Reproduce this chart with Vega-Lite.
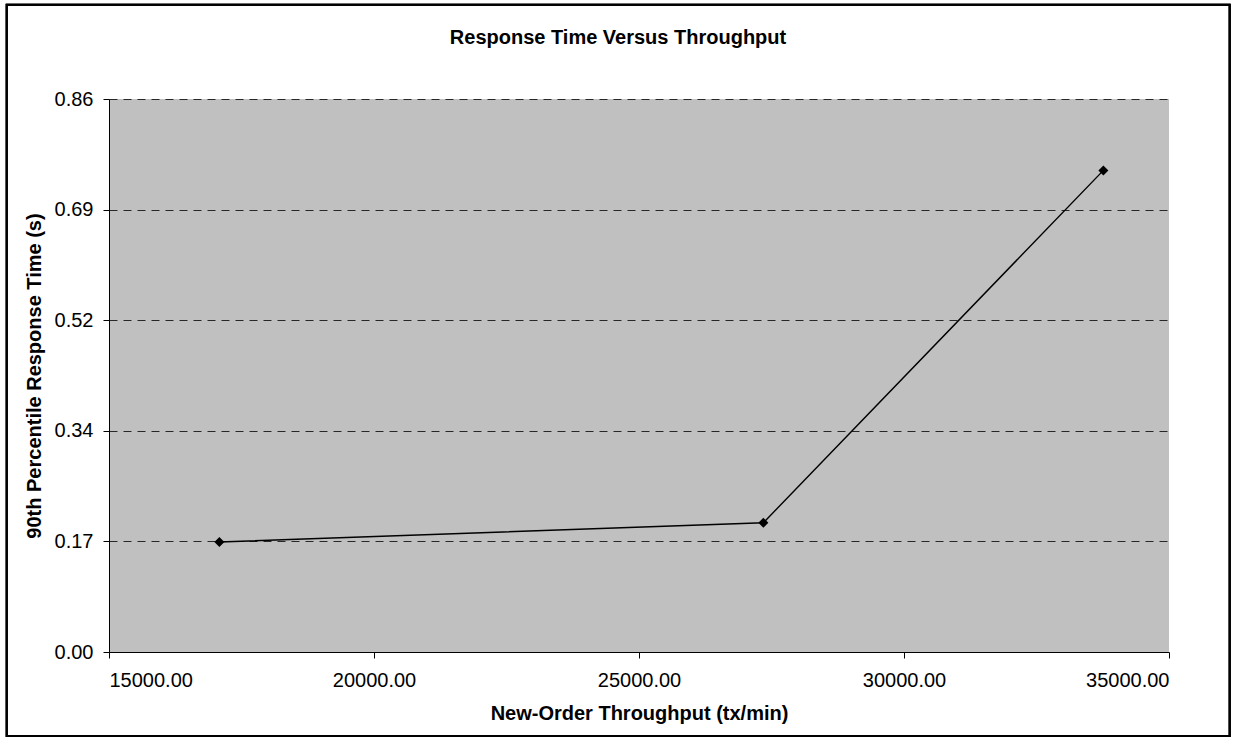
{
  "$schema": "https://vega.github.io/schema/vega-lite/v6.json",
  "autosize": "none",
  "padding": {"left": 109, "top": 99, "right": 65, "bottom": 88},
  "width": 1060,
  "height": 553,
  "background": "white",
  "title": {
    "text": "Response Time Versus Throughput",
    "font": "Liberation Sans",
    "fontSize": 20,
    "fontWeight": "bold",
    "color": "black",
    "anchor": "middle",
    "frame": "group",
    "baseline": "alphabetic",
    "offset": -60,
    "dx": -21
  },
  "config": {
    "view": {"fill": "#c0c0c0", "stroke": null},
    "axis": {
      "labelFont": "Liberation Sans",
      "labelFontSize": 20,
      "labelColor": "black",
      "titleFont": "Liberation Sans",
      "titleFontSize": 20,
      "titleFontWeight": "bold",
      "titleColor": "black",
      "domainColor": "black",
      "domainWidth": 1,
      "tickColor": "black",
      "tickSize": 6,
      "gridColor": "black",
      "gridDash": [8, 6],
      "gridWidth": 1,
      "gridOpacity": 0.8
    }
  },
  "data": {
    "values": [
      {"throughput": 17083, "response": 0.171},
      {"throughput": 27347, "response": 0.201},
      {"throughput": 33762, "response": 0.749}
    ]
  },
  "layer": [
    {
      "mark": {"type": "rect", "fill": null, "stroke": "black", "strokeWidth": 2, "clip": false},
      "encoding": {
        "x": {"datum": 13070, "type": "quantitative"},
        "x2": {"datum": 36145},
        "y": {"datum": 1.0067, "type": "quantitative"},
        "y2": {"datum": -0.1307}
      }
    },
    {
      "mark": {"type": "line", "color": "black", "strokeWidth": 1.4},
      "encoding": {
        "x": {
          "field": "throughput",
          "type": "quantitative",
          "scale": {"domain": [15000, 35000], "nice": false, "zero": false},
          "axis": {
            "title": "New-Order Throughput (tx/min)",
            "values": [15000, 20000, 25000, 30000, 35000],
            "format": ".2f",
            "grid": false,
            "labelPadding": 12,
            "titlePadding": 13
          }
        },
        "y": {
          "field": "response",
          "type": "quantitative",
          "scale": {"domain": [0, 0.86], "nice": false},
          "axis": {
            "title": "90th Percentile Response Time (s)",
            "values": [0, 0.172, 0.344, 0.516, 0.688, 0.86],
            "format": ".2f",
            "grid": true,
            "labelPadding": 10,
            "titlePadding": 10
          }
        }
      }
    },
    {
      "mark": {"type": "point", "shape": "diamond", "filled": true, "color": "black", "size": 100, "opacity": 1},
      "encoding": {
        "x": {"field": "throughput", "type": "quantitative"},
        "y": {"field": "response", "type": "quantitative"}
      }
    }
  ]
}
